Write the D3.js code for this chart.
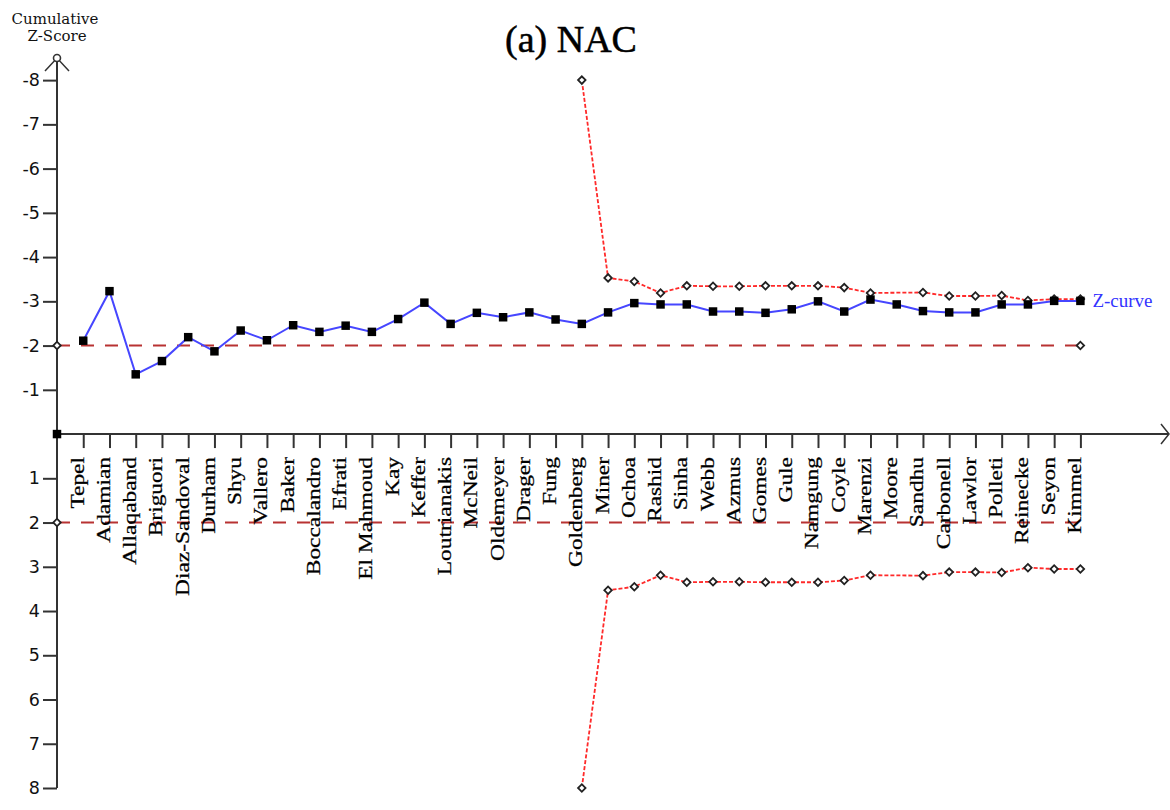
<!DOCTYPE html>
<html><head><meta charset="utf-8">
<script src="https://cdn.jsdelivr.net/npm/d3@7"></script>
<style>body{margin:0;background:#fff}svg{display:block}</style>
</head><body>
<svg id="c" width="1170" height="810"></svg>
<script>
// ---- data ----
const studies = ["Tepel","Adamian","Allaqaband","Briguori","Diaz-Sandoval","Durham","Shyu","Vallero","Baker","Boccalandro","Efrati","El Mahmoud","Kay","Keffer","Loutrianakis","McNeil","Oldemeyer","Drager","Fung","Goldenberg","Miner","Ochoa","Rashid","Sinha","Webb","Azmus","Gomes","Gule","Namgung","Coyle","Marenzi","Moore","Sandhu","Carbonell","Lawlor","Polleti","Reinecke","Seyon","Kimmel"];
// cumulative Z-score (as plotted, axis shows negative values upward)
const zCurve = [-2.11,-3.23,-1.35,-1.65,-2.19,-1.87,-2.34,-2.12,-2.46,-2.31,-2.45,-2.31,-2.60,-2.97,-2.49,-2.74,-2.64,-2.75,-2.59,-2.49,-2.75,-2.96,-2.93,-2.93,-2.77,-2.77,-2.74,-2.82,-3.00,-2.77,-3.04,-2.93,-2.78,-2.75,-2.75,-2.93,-2.93,-3.01,-3.01];
// monitoring boundary magnitude (null = not drawn)
const boundary = [null,null,null,null,null,null,null,null,null,null,null,null,null,null,null,null,null,null,null,8,3.53,3.45,3.19,3.35,3.34,3.34,3.35,3.35,3.35,3.31,3.19,null,3.20,3.12,3.12,3.13,3.02,3.05,3.05];
const yTicks = [-8,-7,-6,-5,-4,-3,-2,-1,1,2,3,4,5,6,7,8];
const conventional = [-2, 2];
const title = "(a) NAC";

// ---- layout ----
const svg = d3.select("#c");
const x = d3.scaleLinear().domain([0, studies.length]).range([57, 1080.4]);
const y = d3.scaleLinear().domain([-8.5, 8]).range([58, 788]);
const axisColor = "#333";

// title
svg.append("text").attr("x", 571).attr("y", 52).attr("text-anchor","middle")
  .attr("font-family","Liberation Serif, Times New Roman, serif").attr("font-size",38)
  .attr("fill","#000").attr("stroke","#000").attr("stroke-width",0.5).text(title);

// y axis label
const yl = svg.append("g").attr("font-family","DejaVu Serif, serif").attr("font-size",15).attr("fill","#111").attr("text-anchor","middle");
yl.append("text").attr("x",55).attr("y",24).text("Cumulative");
yl.append("text").attr("x",57).attr("y",41).text("Z-Score");

// conventional boundaries
const conv = svg.append("g");
conventional.forEach(c => {
  conv.append("line").attr("x1", x(0)).attr("x2", x(studies.length)).attr("y1", y(c)).attr("y2", y(c))
    .attr("stroke","#b83232").attr("stroke-width",2).attr("stroke-dasharray","13,11");
});

// y axis
const yAxis = d3.axisLeft(y).tickValues(yTicks).tickSize(14).tickSizeOuter(0).tickPadding(3)
  .tickFormat(d => String(d));
const gy = svg.append("g").attr("transform", `translate(${x(0)},0)`).call(yAxis);
gy.select(".domain").remove();
gy.selectAll(".tick line").attr("stroke",axisColor).attr("stroke-width",2);
gy.selectAll(".tick text").attr("font-family","DejaVu Sans, sans-serif").attr("font-size",17.5).attr("fill","#111");
svg.append("line").attr("x1",x(0)).attr("x2",x(0)).attr("y1",y(-8.5)).attr("y2",y(8))
  .attr("stroke",axisColor).attr("stroke-width",2);
// arrow at top
svg.append("path").attr("d", `M${x(0)-12},${y(-8.5)+13} L${x(0)},${y(-8.5)} L${x(0)+12},${y(-8.5)+13}`)
  .attr("fill","none").attr("stroke",axisColor).attr("stroke-width",1.5);

// x axis
const xAxis = d3.axisBottom(x).tickValues(d3.range(1, studies.length+1)).tickSize(14).tickSizeOuter(0).tickFormat("");
const gx = svg.append("g").attr("transform", `translate(0,${y(0)})`).call(xAxis);
gx.select(".domain").remove();
gx.selectAll(".tick line").attr("stroke",axisColor).attr("stroke-width",2);
svg.append("line").attr("x1",x(0)).attr("x2",1168).attr("y1",y(0)).attr("y2",y(0))
  .attr("stroke",axisColor).attr("stroke-width",2);
svg.append("path").attr("d", `M1161,${y(0)-10} L1169,${y(0)} L1161,${y(0)+10}`)
  .attr("fill","none").attr("stroke",axisColor).attr("stroke-width",1.5);

// category labels
svg.append("g").selectAll("text").data(studies).join("text")
  .attr("transform",(d,i)=>`translate(${x(i+1)+0.5},457) rotate(-90) scale(1.3,1)`)
  .attr("text-anchor","end")
  .attr("font-family","Liberation Serif, Times New Roman, serif").attr("font-size",18)
  .attr("fill","#000").attr("stroke","#000").attr("stroke-width",0.25)
  .text(d=>d);

// monitoring boundaries
const bData = boundary.map((b,i)=>({i, b})).filter(d=>d.b!==null);
const bLine = s => d3.line().x(d=>x(d.i+1)).y(d=>y(s*d.b));
[-1, 1].forEach(s => {
  svg.append("path").datum(bData).attr("d", bLine(s)).attr("fill","none")
    .attr("stroke","#ff2a2a").attr("stroke-width",1.8).attr("stroke-dasharray","4,2");
});

// Z-curve line
const zData = zCurve.map((v,i)=>({i, v}));
svg.append("path").datum(zData).attr("d", d3.line().x(d=>x(d.i+1)).y(d=>y(d.v)))
  .attr("fill","none").attr("stroke","#4646ff").attr("stroke-width",2);

// diamonds
const diamond = d3.symbol().type(d3.symbolSquare).size(28);
function diam(cx, cy){
  svg.append("path").attr("d", diamond()).attr("transform",`translate(${cx},${cy}) rotate(45)`)
    .attr("fill","#fff").attr("stroke","#222").attr("stroke-width",1.8);
}
[-1,1].forEach(s => bData.forEach(d => diam(x(d.i+1), y(s*d.b))));
diam(x(0), y(-2)); diam(x(0), y(2)); diam(x(studies.length), y(-2));
svg.append("circle").attr("cx",x(0)).attr("cy",y(-8.5)).attr("r",3.5).attr("fill","#fff").attr("stroke","#333").attr("stroke-width",1.6);

// Z-curve markers
const square = d3.symbol().type(d3.symbolSquare).size(72);
svg.append("g").selectAll("path").data(zData).join("path").attr("d", square())
  .attr("transform", d=>`translate(${x(d.i+1)},${y(d.v)})`).attr("fill","#000");
svg.append("path").attr("d", square()).attr("transform",`translate(${x(0)},${y(0)})`).attr("fill","#000");

// Z-curve label
svg.append("text").attr("x", x(studies.length)+12).attr("y", y(zCurve[zCurve.length-1])+6)
  .attr("font-family","Liberation Serif, Times New Roman, serif").attr("font-size",19)
  .attr("fill","#3333ff").text("Z-curve");
</script>
</body></html>
